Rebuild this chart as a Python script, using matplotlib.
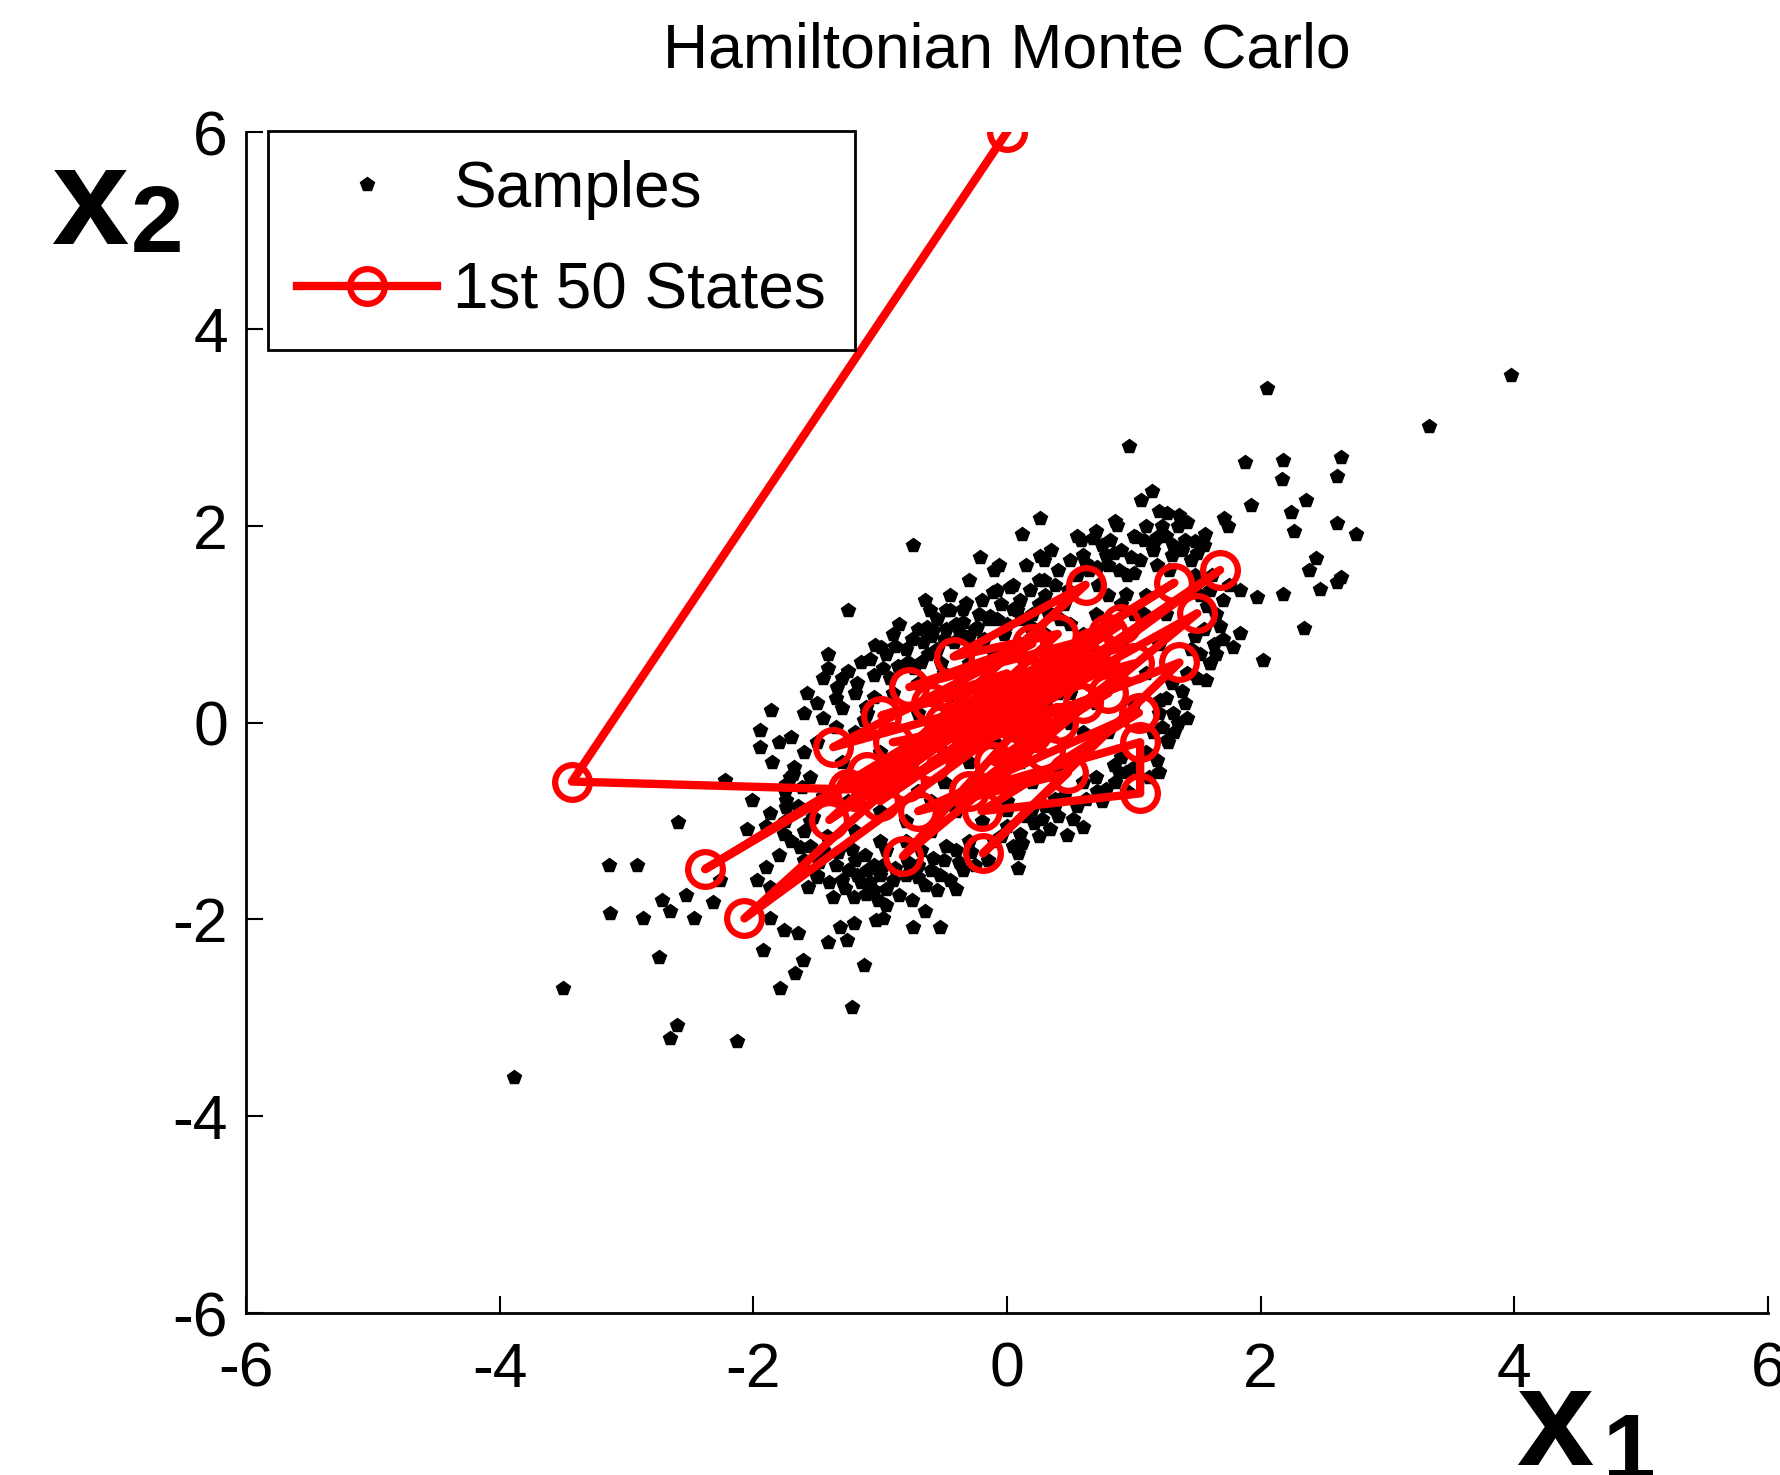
import numpy as np
import matplotlib.pyplot as plt

plt.rcParams['font.family'] = ['Liberation Sans', 'DejaVu Sans']
plt.rcParams['axes.unicode_minus'] = False

# samples away from the dense middle of the cloud (x1, x2)
tail_samples = [
    (3.97, 3.53), (3.33, 3.01), (2.63, 2.70), (2.60, 2.50), (2.18, 2.67), (2.17, 2.47),
    (2.36, 2.26), (2.24, 2.14), (2.26, 1.95), (2.60, 2.03), (2.75, 1.92), (2.44, 1.67),
    (2.38, 1.55), (2.63, 1.48), (2.60, 1.43), (2.47, 1.36), (2.18, 1.31), (2.34, 0.96),
    (2.05, 3.40), (0.96, 2.81), (1.88, 2.65), (1.14, 2.35), (1.06, 2.26), (1.92, 2.21),
    (1.71, 2.08), (0.26, 2.08), (0.12, 1.92), (-0.74, 1.80), (-0.21, 1.68), (-0.06, 1.60),
    (0.29, 1.65), (0.58, 1.85), (0.68, 1.87), (0.87, 2.01), (1.02, 1.89), (1.18, 1.89),
    (1.26, 2.13), (1.36, 2.11), (1.42, 2.04), (1.48, 1.84), (1.56, 1.92), (1.31, 1.80),
    (1.15, 1.80), (1.97, 1.28), (1.84, 1.35), (1.84, 0.91), (1.78, 0.77), (2.02, 0.64),
    (1.63, 0.80), (1.60, 0.60), (1.57, 0.43), (1.74, 2.00), (1.50, 1.72),
    (-0.61, 1.14), (-0.45, 1.14), (-0.32, 1.21), (-0.08, 1.35), (0.02, 1.38), (-0.63, 0.97),
    (-0.66, 0.82), (-0.86, 0.57), (-0.99, 0.77), (-0.37, 0.91), (-0.24, 0.97), (-0.13, 1.08),
    (0.08, 1.14), (0.29, 1.45), (0.26, 1.69), (0.84, 1.72), (0.81, 1.85), (1.00, 1.52),
    (0.94, 1.31), (0.71, 1.58), (1.07, 1.11), (-0.48, 1.14), (-0.11, 1.33),
    (1.26, -0.18), (1.21, 0.23), (1.31, 0.10),
    (-1.25, 1.14), (-0.58, 0.94), (-1.04, 0.79), (-1.41, 0.70), (-1.41, 0.55), (-1.34, 0.36),
    (-0.73, 0.55), (-1.86, 0.13), (-1.95, -0.08), (-1.05, 0.26), (-1.11, 0.16), (-1.13, 0.03),
    (-1.69, -0.52), (-1.74, -0.62), (-1.74, -0.86),
    (-2.22, -0.58), (-2.59, -1.01), (-2.01, -0.79), (-1.71, -0.55), (-1.87, -0.92), (-2.05, -1.08),
    (-1.76, -1.13), (-1.63, -1.26), (-1.74, -0.79), (-3.14, -1.45), (-2.92, -1.45), (-3.13, -1.94),
    (-2.87, -1.99), (-2.72, -1.80), (-2.66, -1.91), (-2.53, -1.75), (-2.47, -1.99), (-2.32, -1.82),
    (-2.26, -1.60), (-2.74, -2.38), (-3.50, -2.70), (-2.60, -3.07), (-2.66, -3.21), (-2.13, -3.24),
    (-3.89, -3.60), (-1.92, -2.31), (-1.79, -2.70), (-1.67, -2.55), (-1.61, -2.41), (-1.76, -2.11),
    (-1.65, -2.14), (-1.41, -2.23), (-1.26, -2.21), (-1.32, -2.08), (-1.21, -2.04), (-1.13, -2.46),
    (-1.22, -2.89), (-1.03, -2.01), (-1.87, -1.99), (-1.57, -1.67), (-1.50, -1.57), (-1.37, -1.77),
    (-1.21, -1.77), (-1.11, -1.74), (-1.97, -1.60), (-1.90, -1.47), (-1.87, -1.67), (-1.53, -0.96),
    (0.71, -0.70), (0.60, -1.06), (0.47, -1.14), (0.34, -1.08), (0.21, -1.02), (0.10, -1.13),
    (0.09, -1.33), (0.09, -1.48), (0.00, -0.89), (0.37, -0.87), (0.84, -0.43), (0.94, -0.50),
    (1.27, -0.20), (-0.53, -1.55), (-0.40, -1.69), (-0.65, -1.91), (-0.74, -2.08), (-0.53, -2.08),
    (-0.98, -1.99), (-0.95, -1.69), (-0.70, -1.57),
]

# upper edge of the dense region
upper_samples = [
    (-1.30, 0.45), (-1.20, 0.30), (-1.15, 0.62), (-1.05, 0.48), (-0.95, 0.70), (-0.90, 0.90),
    (-0.85, 1.00), (-0.80, 0.75), (-0.70, 0.95), (-0.65, 1.25), (-0.55, 1.05), (-0.50, 0.85),
    (-0.45, 1.30), (-0.40, 1.00), (-0.35, 1.15), (-0.30, 1.45), (-0.25, 0.95), (-0.20, 1.25),
    (-0.15, 1.05), (-0.10, 1.55), (-0.05, 1.20), (0.00, 1.00), (0.05, 1.40), (0.10, 1.25),
    (0.15, 1.60), (0.20, 1.10), (0.25, 1.45), (0.30, 1.30), (0.35, 1.75), (0.40, 1.55),
    (0.45, 1.20), (0.50, 1.65), (0.55, 1.90), (0.60, 1.70), (0.65, 1.55), (0.70, 1.95),
    (0.75, 1.80), (0.80, 1.60), (0.85, 2.05), (0.90, 1.75), (0.95, 1.50), (1.00, 1.90),
    (1.05, 1.65), (1.10, 2.00), (1.15, 1.75), (1.20, 2.15), (1.25, 1.90), (1.30, 1.70),
    (1.35, 2.00), (1.40, 1.85), (1.45, 1.65), (1.55, 1.80), (1.60, 1.35), (1.70, 1.25),
    (1.75, 1.40), (1.65, 1.10), (1.55, 0.95), (1.70, 0.85), (1.45, 0.75), (1.60, 0.60),
    (-0.78, 0.62), (-0.62, 0.70), (-0.52, 0.60), (-0.28, 0.78), (0.18, 0.98), (0.42, 1.05),
    (-1.45, 0.05), (-1.35, 0.25), (-1.25, 0.52), (-1.18, 0.40), (-1.08, 0.65), (-0.98, 0.55),
    (-0.92, 0.45), (-0.88, 0.78), (-0.75, 0.85), (-0.68, 0.62), (-0.60, 0.88), (-0.55, 0.75),
    (-0.48, 0.95), (-0.42, 0.82), (-0.35, 1.02), (-0.30, 0.88), (-0.22, 1.10), (-0.18, 0.85),
    (-0.08, 1.05), (-0.02, 0.90), (0.05, 1.15), (0.12, 1.05), (0.18, 1.35), (0.25, 1.20),
    (0.32, 1.12), (0.38, 1.40), (0.48, 1.35), (0.55, 1.50), (0.62, 1.62), (0.72, 1.40),
    (0.78, 1.70), (0.88, 1.55), (0.98, 1.68), (1.08, 1.85), (1.18, 1.60), (1.22, 2.00),
    (1.28, 1.55), (1.38, 1.75), (1.48, 1.50), (1.52, 1.30), (1.62, 1.50), (1.58, 1.18),
    (1.68, 0.98), (1.48, 0.88), (1.42, 0.50), (1.52, 0.70), (1.65, 0.70), (1.38, 0.32),
]

# lower edge of the dense region
lower_samples = [
    (-1.60, -1.40), (-1.50, -1.55), (-1.45, -1.30), (-1.35, -1.45), (-1.30, -1.60), (-1.25, -1.50),
    (-1.20, -1.40), (-1.15, -1.62), (-1.10, -1.50), (-1.05, -1.70), (-1.00, -1.55), (-0.95, -1.85),
    (-0.90, -1.60), (-0.85, -1.75), (-0.80, -1.55), (-0.75, -1.80), (-0.70, -1.45), (-0.65, -1.65),
    (-0.60, -1.50), (-0.55, -1.70), (-0.50, -1.40), (-0.45, -1.60), (-0.40, -1.30), (-0.35, -1.50),
    (-0.30, -1.20), (-0.25, -1.45), (-0.10, -1.20), (0.00, -1.05), (0.05, -1.25), (0.15, -0.95),
    (0.25, -1.15), (0.30, -0.85), (0.40, -0.95), (0.45, -0.75), (0.55, -0.85), (0.60, -0.60),
    (0.70, -0.55), (0.75, -0.80), (0.85, -0.60), (0.90, -0.35), (1.00, -0.45), (1.10, -0.30),
    (1.15, -0.10), (1.20, 0.10), (1.25, 0.25), (1.30, 0.40), (1.40, 0.20), (1.35, 0.00),
    (1.50, 0.45), (1.20, -0.50), (-1.70, -1.20), (-1.80, -1.35), (-1.60, -1.10), (-1.90, -1.05),
    (-1.65, -0.85), (-1.55, -1.00), (-1.75, -0.70), (-1.85, -0.40), (-1.95, -0.25), (-1.60, -0.30),
    (-1.55, -0.55), (-1.70, -0.15), (-1.60, 0.10), (-1.50, 0.20), (-1.45, 0.45), (-1.30, 0.15),
    (-1.28, -1.68), (-1.18, -1.55), (-1.08, -1.62), (-0.98, -1.45), (-1.40, -1.62), (-1.02, -1.80),
    (-1.55, -1.25), (-1.48, -1.42), (-1.42, -1.15), (-1.33, -1.32), (-1.22, -1.28), (-1.12, -1.35),
    (-1.05, -1.45), (-0.95, -1.30), (-0.88, -1.48), (-0.78, -1.42), (-0.68, -1.30), (-0.58, -1.38),
    (-0.48, -1.25), (-0.38, -1.42), (-0.28, -1.32), (-0.15, -1.40), (-0.05, -1.15), (0.12, -1.22),
    (0.20, -0.88), (0.28, -0.98), (0.38, -0.78), (0.52, -0.98), (0.62, -0.78), (0.78, -0.68),
    (0.88, -0.50), (0.95, -0.70), (1.12, -0.55), (1.18, -0.38), (1.22, -0.05), (1.32, -0.10),
    (1.42, 0.05), (-1.75, -1.00), (-1.68, -0.45), (-1.80, -0.20), (-1.62, -0.65), (-1.50, -0.20),
    (-1.45, -0.75), (-1.58, 0.30), (-1.35, -0.05),
]

# middle of the cloud, mostly under the chain
core_samples = [
    (-1.20, -1.10), (-1.00, -1.20), (-0.80, -1.00), (-0.60, -1.10), (-0.40, -0.90), (-0.20, -1.00),
    (0.00, -0.80), (0.20, -0.60), (0.40, -0.50), (0.60, -0.30), (0.80, -0.10), (1.00, 0.20),
    (1.10, 0.50), (1.20, 0.80), (1.25, 1.10), (1.10, 1.30), (0.90, 1.20), (0.70, 1.10),
    (0.50, 1.00), (0.30, 0.90), (0.10, 0.80), (-0.10, 0.70), (-0.30, 0.60), (-0.50, 0.50),
    (-0.70, 0.40), (-0.90, 0.30), (-1.10, 0.10), (-1.20, -0.10), (-1.30, -0.40), (-1.25, -0.80),
    (-1.00, -0.90), (-0.90, -0.50), (-0.70, -0.70), (-0.50, -0.60), (-0.30, -0.40), (-0.10, -0.20),
    (0.10, 0.00), (0.30, 0.20), (0.50, 0.30), (0.70, 0.70), (0.90, 0.80), (1.00, 1.10),
    (0.80, 1.30), (0.60, 0.90), (0.40, 0.60), (0.20, 0.50), (0.00, 0.30), (-0.20, 0.40),
    (-0.40, 0.20), (-0.60, -0.10), (-0.80, -0.30), (-1.00, -0.30), (-0.70, 0.10), (-0.50, -0.30),
    (-0.30, -0.10), (-0.10, 0.10), (0.10, -0.40), (0.30, -0.10), (0.50, 0.00), (0.70, 0.20),
    (0.90, 0.40), (0.60, -0.10), (0.20, 0.20), (-0.20, -0.60), (-0.40, -0.80), (-0.60, -0.80),
    (-0.80, -1.20), (0.00, 0.00), (0.40, 0.30), (0.80, 0.60),
]

# first 50 states of the sampler, in order
chain_x1 = [0.00, -3.43, -1.25, 1.32, -2.38, 0.90, -1.40, 0.62, -0.42, 0.40,
            -2.07, 1.68, -1.00, 0.66, -0.82, 1.50, -0.60, 1.36, -0.19, 0.48,
            -0.70, 1.04, -0.20, 1.05, 1.05, -0.30, 1.00, -1.37, 0.20, -0.77,
            0.80, -1.10, 0.50, -0.99, 0.00, -1.20, 0.30, -0.80, 0.70, -0.40,
            0.80, -0.10, 0.60, -0.90, 0.40, -0.50, 0.20, -0.20, 0.30, -0.60]
chain_x2 = [6.00, -0.60, -0.68, 1.42, -1.49, 1.00, -0.99, 1.40, 0.67, 0.90,
            -1.99, 1.55, -0.80, 0.76, -1.36, 1.11, -0.40, 0.61, -1.33, -0.51,
            -0.90, 0.10, -0.90, -0.72, -0.20, -0.70, 0.60, -0.25, 0.80, 0.36,
            0.90, -0.50, 0.60, 0.07, 0.50, -0.70, 0.40, -0.60, 0.50, -0.20,
            0.30, -0.40, 0.20, -0.20, 0.00, 0.00, -0.10, 0.10, -0.30, 0.20]

ticks = [-6, -4, -2, 0, 2, 4, 6]

samples = np.array(tail_samples + upper_samples + lower_samples + core_samples)

fig = plt.figure(figsize=(17.81, 14.75), dpi=100)
ax = fig.add_axes([0.1381, 0.1098, 0.8546, 0.8007])

ax.plot(samples[:, 0], samples[:, 1], linestyle='none', marker='p', ms=10,
        color='k', mec='k', label='Samples', zorder=2)
ax.plot(chain_x1, chain_x2, '-o', color='red', lw=6, ms=25, mfc='none', mew=4.5,
        label='1st 50 States', zorder=3)

ax.set_xlim(-6, 6)
ax.set_ylim(-6, 6)
ax.set_xticks(ticks)
ax.set_yticks(ticks)
ax.tick_params(direction='in', length=12, width=1.5, labelsize=45)
ax.tick_params(axis='x', pad=20)
ax.tick_params(axis='y', pad=13)
for side in ['top', 'right']:
    ax.spines[side].set_visible(False)
for side in ['left', 'bottom']:
    ax.spines[side].set_linewidth(2)

leg = ax.legend(loc='upper left', bbox_to_anchor=(268 / 1781, 1 - 131 / 1475),
                bbox_transform=fig.transFigure, fontsize=46, fancybox=False,
                edgecolor='k', framealpha=1, borderpad=0.45, labelspacing=0.65,
                handlelength=2.2, handletextpad=0.25, borderaxespad=0, numpoints=1)
leg.get_frame().set_linewidth(2)

fig.text(0.5654, 0.954, 'Hamiltonian Monte Carlo', ha='center', va='baseline', fontsize=45)

# axis names drawn as big bold letters with subscripts
fig.text(51 / 1781, 1 - 244 / 1475, 'x', fontsize=100, fontweight='bold', va='baseline')
fig.text(131 / 1781, 1 - 252 / 1475, '2', fontsize=68, fontweight='bold', va='baseline')
fig.text(1516 / 1781, 1 - 1465 / 1475, 'x', fontsize=100, fontweight='bold', va='baseline')
fig.text(1603 / 1781, 1 - 1480 / 1475, '1', fontsize=68, fontweight='bold', va='baseline')

fig.savefig('out.png', dpi=100)
